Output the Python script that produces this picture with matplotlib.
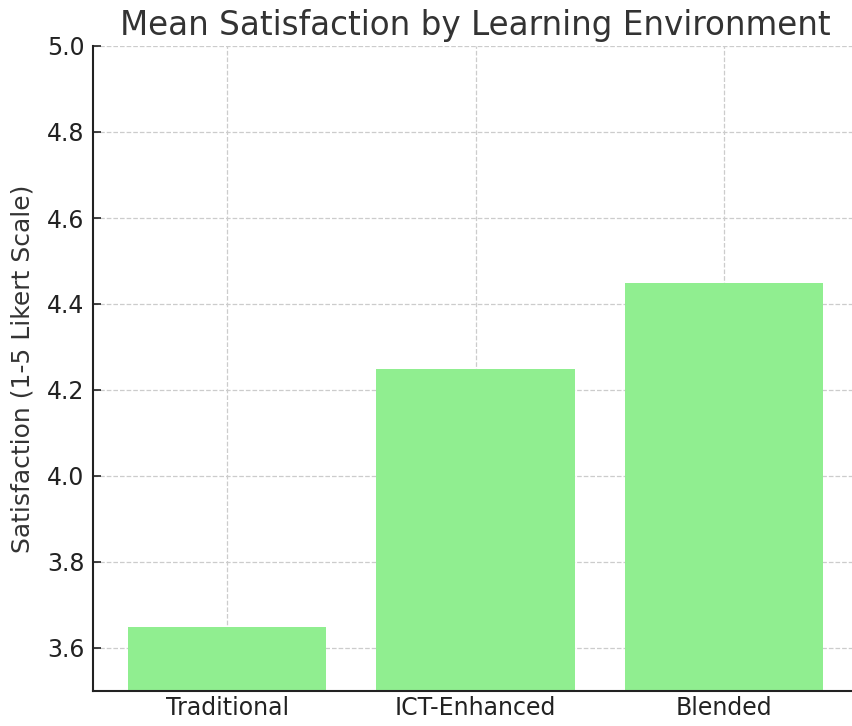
import matplotlib
matplotlib.use("Agg")
import matplotlib.pyplot as plt

categories = ["Traditional", "ICT-Enhanced", "Blended"]
satisfaction = [3.65, 4.25, 4.45]
yticks = [3.6, 3.8, 4.0, 4.2, 4.4, 4.6, 4.8, 5.0]

W, H = 852, 726
fig = plt.figure(figsize=(W / 100, H / 100), dpi=100)
# axes runs a bit past the right edge, as in the reference
ax = fig.add_axes([93 / W, 1 - 691 / H, (858 - 93) / W, (691 - 46) / H])

ax.bar(categories, satisfaction, width=0.8, color="#90EE90", zorder=2)
ax.set_ylim(3.5, 5.0)
ax.set_xlim(-0.54, 2.54)
ax.set_yticks(yticks)
ax.set_yticklabels([f"{v:.1f}" for v in yticks])

ax.grid(True, linestyle="--", color="#cccccc", linewidth=0.9, zorder=0)
ax.set_axisbelow(True)
for side in ("top", "right"):
    ax.spines[side].set_visible(False)
for side in ("left", "bottom"):
    ax.spines[side].set_linewidth(1.5)
    ax.spines[side].set_color("#222222")

ax.tick_params(direction="in", length=6, width=1.2, labelsize=17, colors="#222222")
ax.tick_params(axis="y", pad=6)
ax.set_ylabel("Satisfaction (1-5 Likert Scale)", fontsize=18, color="#333333")
ax.yaxis.set_label_coords(-0.077, 0.5)
ax.set_title("Mean Satisfaction by Learning Environment", fontsize=23.5, color="#333333", pad=8)

fig.savefig("out.png", dpi=100)
